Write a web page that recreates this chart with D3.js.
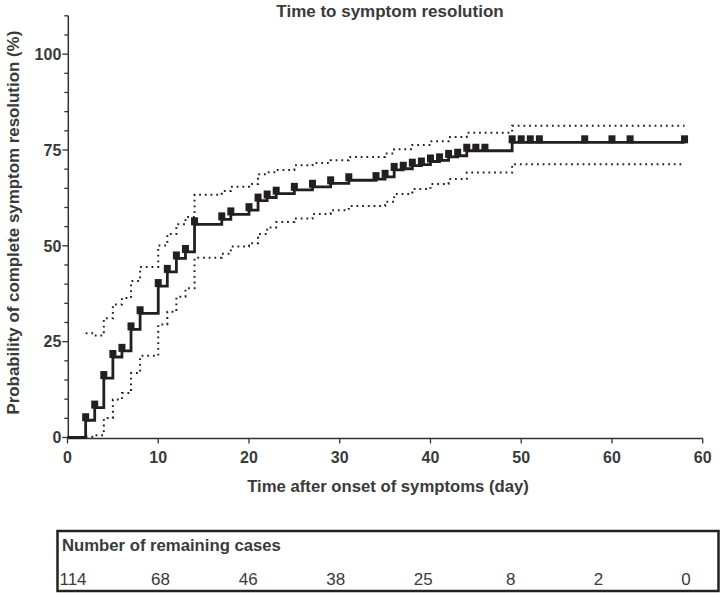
<!DOCTYPE html>
<html>
<head>
<meta charset="utf-8">
<script src="https://cdn.jsdelivr.net/npm/d3@7"></script>
<style>
  body { margin: 0; background: #fff; }
  text { font-family: "Liberation Sans", Arial, sans-serif; fill: #3a3a3a; }
</style>
</head>
<body>
<svg id="chart" width="721" height="593"></svg>
<script>
// step days of the Kaplan-Meier curve and the value (%) after each step
const stepDays = [2, 3, 4, 5, 6, 7, 8, 10, 11, 12, 13, 14, 17, 18, 20, 21, 22, 23, 25, 27, 29, 31, 34, 35,
                  36, 37, 38, 39, 40, 41, 42, 43, 44, 45, 46, 49];
const resolved = [4.5, 7.8, 15.5, 21.0, 22.6, 28.2, 32.4, 39.5, 43.2, 46.7, 48.4, 55.6, 56.9, 58.2, 59.3, 61.8, 62.6, 63.6, 64.6, 65.4, 66.3, 67.1, 67.4, 68.0,
                  69.8, 70.1, 70.9, 71.2, 72.0, 72.3, 73.2, 73.5, 74.8, 74.8, 74.8, 77.0];
const upperCI =  [27.2, 26.6, 31.1, 34.7, 36.4, 40.8, 44.5, 50.1, 53.1, 55.6, 57.5, 63.3, 64.3, 65.4, 66.1, 68.7, 69.2, 69.8, 71.0, 71.6, 72.3, 73.2, 73.2, 74.1,
                  75.2, 75.2, 76.3, 76.3, 77.3, 77.3, 78.4, 78.4, 79.5, 79.5, 79.5, 81.3];
const lowerCI =  [0.2, 0.6, 5.1, 9.9, 11.6, 16.8, 21.3, 29.5, 32.8, 36.7, 38.9, 46.9, 47.9, 49.8, 50.7, 53.1, 54.8, 56.2, 57.1, 58.3, 59.3, 60.4, 60.4, 61.5,
                  63.5, 63.5, 64.8, 64.8, 66.1, 66.1, 67.4, 67.4, 69.1, 69.1, 69.1, 71.3];
const lastDay = 68;
// days with a tick mark on the curve
const markDays = [2, 3, 4, 5, 6, 7, 8, 10, 11, 12, 13, 14, 17, 18, 20, 21, 22, 23, 25, 27, 29, 31, 34, 35,
                  36, 37, 38, 39, 40, 41, 42, 43, 44, 45, 46, 49, 50, 51, 52, 57, 60, 62, 68];

const xTickValues = [0, 10, 20, 30, 40, 50, 60, 70];
const xTickLabels = ["0", "10", "20", "30", "40", "50", "60", "60"];
const yTickValues = [0, 25, 50, 75, 100];
const yMinorTicks = d3.range(0, 111, 5);
const riskCounts = ["114", "68", "46", "38", "25", "8", "2", "0"];

const svg = d3.select("#chart");

const x = d3.scaleLinear().domain([0, 70]).range([67.5, 702.7]);
const y = d3.scaleLinear().domain([0, 110]).range([437.5, 15.8]);

// build step series
const curve = [{ d: 0, v: 0 }].concat(stepDays.map((d, i) => ({ d: d, v: resolved[i] })));
curve.push({ d: lastDay, v: resolved[resolved.length - 1] });
const upper = stepDays.map((d, i) => ({ d: d, v: upperCI[i] }));
upper.push({ d: lastDay, v: upperCI[upperCI.length - 1] });
const lower = stepDays.map((d, i) => ({ d: d, v: lowerCI[i] }));
lower.push({ d: lastDay, v: lowerCI[lowerCI.length - 1] });

const step = d3.line()
    .x(p => x(p.d))
    .y(p => y(p.v))
    .curve(d3.curveStepAfter);

// title
svg.append("text")
    .attr("x", 390).attr("y", 17)
    .attr("text-anchor", "middle")
    .style("font-size", "17px").style("font-weight", "bold")
    .text("Time to symptom resolution");

// y axis
const yAxis = svg.append("g").attr("transform", `translate(${x(0) + 0.8},0)`);
yAxis.append("line")
    .attr("y1", y(110)).attr("y2", y(0))
    .attr("stroke", "#333").attr("stroke-width", 1.5);
yAxis.selectAll(".minor").data(yMinorTicks).join("line")
    .attr("x1", d => yTickValues.includes(d) ? -6 : -4).attr("x2", 0)
    .attr("y1", d => y(d)).attr("y2", d => y(d))
    .attr("stroke", "#333").attr("stroke-width", 1.3);
yAxis.selectAll(".lbl").data(yTickValues).join("text")
    .attr("x", -7).attr("y", d => y(d)).attr("dy", "0.36em")
    .attr("text-anchor", "end")
    .style("font-size", "16px").style("font-weight", "bold")
    .text(d => d);

svg.append("text")
    .attr("transform", `translate(19,${(y(0) + y(110)) / 2 - 4}) rotate(-90)`)
    .attr("text-anchor", "middle")
    .style("font-size", "16.9px").style("font-weight", "bold")
    .text("Probability of complete symptom resolution (%)");

// x axis
const xAxis = svg.append("g").attr("transform", `translate(0,${y(0) + 1})`);
xAxis.append("line")
    .attr("x1", x(0)).attr("x2", x(70))
    .attr("stroke", "#333").attr("stroke-width", 1.5);
xAxis.selectAll(".tk").data(xTickValues).join("line")
    .attr("x1", d => x(d)).attr("x2", d => x(d))
    .attr("y1", 0).attr("y2", 5)
    .attr("stroke", "#333").attr("stroke-width", 1.3);
xAxis.selectAll(".lbl").data(xTickValues).join("text")
    .attr("x", d => x(d)).attr("y", 24)
    .attr("text-anchor", "middle")
    .style("font-size", "16px").style("font-weight", "bold")
    .text((d, i) => xTickLabels[i]);

svg.append("text")
    .attr("x", 388).attr("y", 492)
    .attr("text-anchor", "middle")
    .style("font-size", "16.7px").style("font-weight", "bold")
    .text("Time after onset of symptoms (day)");

// confidence bands (dotted)
[upper, lower].forEach(band => {
    svg.append("path")
        .attr("d", step(band))
        .attr("fill", "none")
        .attr("stroke", "#222")
        .attr("stroke-width", 2)
        .attr("stroke-dasharray", "1.8 3.9");
});

// main curve
svg.append("path")
    .attr("d", step(curve))
    .attr("fill", "none")
    .attr("stroke", "#231f20")
    .attr("stroke-width", 2.8);

// tick marks on the curve
const valueAt = d => {
    const i = d3.bisectRight(curve.map(p => p.d), d) - 1;
    return curve[Math.max(i, 0)].v;
};
svg.selectAll(".mark").data(markDays).join("rect")
    .attr("x", d => x(d) - 3.5)
    .attr("y", d => y(valueAt(d)) - 7)
    .attr("width", 7).attr("height", 8)
    .attr("fill", "#231f20");

// remaining cases table
svg.append("rect")
    .attr("x", 57.5).attr("y", 531)
    .attr("width", 661).attr("height", 60)
    .attr("fill", "none").attr("stroke", "#222").attr("stroke-width", 2.5);
svg.append("text")
    .attr("x", 62).attr("y", 551)
    .style("font-size", "16.7px").style("font-weight", "bold")
    .text("Number of remaining cases");
const riskX = d3.scalePoint().domain(riskCounts.map((c, i) => i)).range([73, 686]);
svg.selectAll(".risk").data(riskCounts).join("text")
    .attr("x", (d, i) => riskX(i)).attr("y", 585)
    .attr("text-anchor", "middle")
    .style("font-size", "17px")
    .text(d => d);
</script>
</body>
</html>
